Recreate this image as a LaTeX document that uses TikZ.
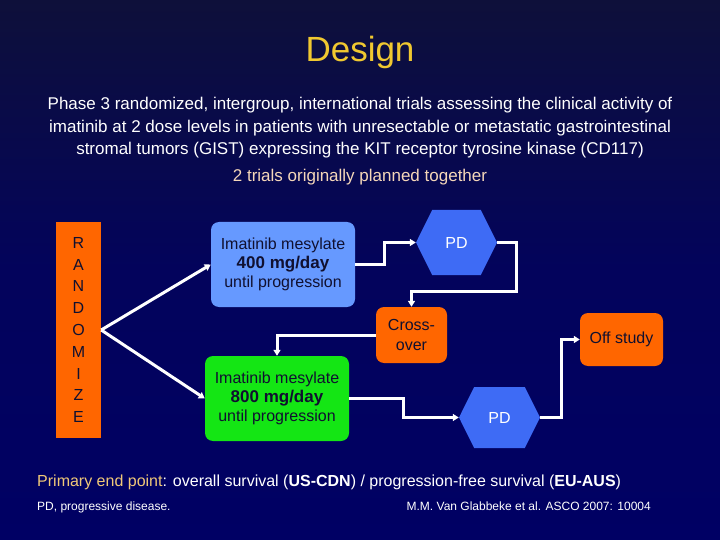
\documentclass[tikz,border=0pt]{standalone}
\usepackage{fontspec}
\setmainfont{Liberation Sans}
\usetikzlibrary{arrows.meta,shapes.symbols,calc}
\definecolor{bgtop}{RGB}{14,16,58}
\definecolor{bgbot}{RGB}{0,0,100}
\definecolor{titlegold}{RGB}{240,200,48}
\definecolor{peach}{RGB}{245,215,185}
\definecolor{endgold}{RGB}{240,200,120}
\definecolor{orangebox}{RGB}{255,102,0}
\definecolor{bluebox}{RGB}{102,153,255}
\definecolor{greenbox}{RGB}{20,230,20}
\definecolor{hexblue}{RGB}{62,107,245}
\definecolor{darktext}{RGB}{16,16,48}
\tikzset{
  box/.style={draw=none, rounded corners=8pt, align=center, text=darktext, font=\fontsize{16}{20}\selectfont, inner sep=0pt},
  hexnode/.style={shape=signal, signal to=east and west, signal pointer angle=127, fill=hexblue, text=white, font=\fontsize{16}{18}\selectfont, inner sep=0pt},
  conn/.style={draw=white, line width=3pt, -{Triangle[length=6pt,width=7pt]}},
}
\begin{document}
\begin{tikzpicture}[x=1pt,y=-1pt]
\shade[top color=bgtop, bottom color=bgbot, middle color=bgbot!80!bgtop] (0,0) rectangle (720,540);
\useasboundingbox (0,0) rectangle (720,540);

\node[text=titlegold, font=\fontsize{35}{40}\selectfont] (title) at (360,52) {Design};
\node[text=white, align=center, font=\fontsize{17}{22.5}\selectfont] (para) at (360,128)
  {Phase 3 randomized, intergroup, international trials assessing the clinical activity of\\
   imatinib at 2 dose levels in patients with unresectable or metastatic gastrointestinal\\
   stromal tumors (GIST) expressing the KIT receptor tyrosine kinase (CD117)};
\node[text=peach, font=\fontsize{17}{18}\selectfont] (two) at (360,177) {2 trials originally planned together};

\node[fill=orangebox, minimum width=45pt, minimum height=216pt, inner sep=0pt, align=center, text=darktext, font=\fontsize{16}{21.8}\selectfont] (rand) at (78.5,330)
  {R\\A\\N\\D\\O\\M\\I\\Z\\E};

\node[box, fill=bluebox, minimum width=144pt, minimum height=85pt] (blue) at (283,264.5)
  {Imatinib mesylate\\[-1pt]{\fontsize{17}{20}\selectfont\bfseries 400 mg/day}\\[-1pt]until progression};
\node[box, fill=greenbox, minimum width=144pt, minimum height=85pt] (green) at (277,398.5)
  {Imatinib mesylate\\[-1pt]{\fontsize{17}{20}\selectfont\bfseries 800 mg/day}\\[-1pt]until progression};

\node[hexnode, minimum width=81pt, minimum height=65pt] (pd1) at (456.5,242.5) {PD};
\node[hexnode, minimum width=81pt, minimum height=61pt] (pd2) at (499.5,417.5) {PD};

\node[box, fill=orangebox, minimum width=71pt, minimum height=56pt] (cross) at (411.5,335) {Cross-\\over};
\node[box, fill=orangebox, minimum width=83pt, minimum height=53pt] (off) at (621.5,339.5) {Off study};

\draw[conn] (rand.east) -- (blue.west);
\draw[conn] (rand.east) -- (green.west);
\draw[conn] (blue.east) -- ++(29,0) |- (pd1.west);
\draw[conn] (pd1.east) -- ++(19,0) -- ++(0,49) -| (cross.north);
\draw[conn] (cross.west) -| (green.north);
\draw[conn] (green.east) -- ++(54,0) |- (pd2.west);
\draw[conn] (pd2.east) -- ++(21,0) |- (off.west);

\node[anchor=base west, text=white, font=\fontsize{16}{18}\selectfont, inner sep=0pt] (endpt) at (37,486)
  {\textcolor{endgold}{Primary end point}: overall survival (\textbf{US-CDN}) / progression-free survival (\textbf{EU-AUS})};
\node[anchor=base west, text=white, font=\fontsize{12}{14}\selectfont, inner sep=0pt] (pdnote) at (37,510) {PD, progressive disease.};
\node[anchor=base east, text=white, font=\fontsize{12}{14}\selectfont, inner sep=0pt] (ref) at (651,510) {M.M. Van Glabbeke et al. ASCO 2007: 10004};
\end{tikzpicture}
\end{document}
